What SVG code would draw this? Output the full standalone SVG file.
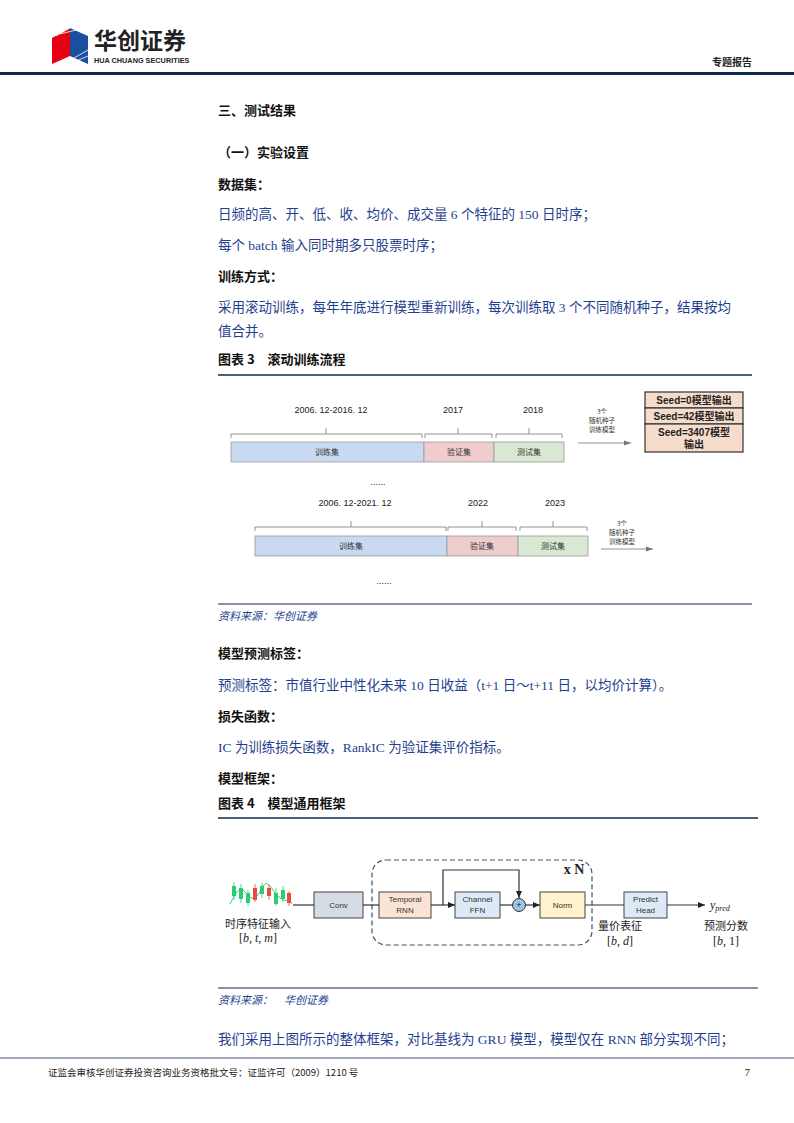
<svg xmlns="http://www.w3.org/2000/svg" width="794" height="1123" viewBox="0 0 794 1123">
<style>
.b{font-family:"Liberation Serif","Noto Sans CJK SC",serif;font-size:13.5px;fill:#1f3f8f}
.h{font-family:"Noto Sans CJK SC",sans-serif;font-weight:bold;font-size:13px;fill:#111}
.s{font-family:"Noto Sans CJK SC",sans-serif;font-size:8px;fill:#333}
.sm{font-family:"Liberation Sans","Noto Sans CJK SC",sans-serif;font-size:9px;fill:#222}
.t{font-family:"Noto Sans CJK SC",sans-serif;font-size:6.5px;fill:#333}
.seed{font-family:"Liberation Sans","Noto Sans CJK SC",sans-serif;font-weight:bold;font-size:10px;fill:#222}
.br{fill:none;stroke:#777;stroke-width:0.8}
.bar{stroke:#999;stroke-width:0.8}
.ln{stroke:#333;stroke-width:1.2;fill:none}
.bx{stroke:#444;stroke-width:1}
.bl{font-family:"Liberation Sans",sans-serif;font-size:8px;fill:#333}
.src{font-family:"Noto Sans CJK SC",sans-serif;font-style:italic;font-size:11px;fill:#1f3f8f}
.lb{font-family:"Noto Sans CJK SC",serif;font-size:11px;fill:#222}
.m{font-family:"Liberation Serif",serif;font-size:12px;fill:#222}
</style>
<defs>
<marker id="a" markerWidth="8" markerHeight="8" refX="7" refY="4" orient="auto" markerUnits="userSpaceOnUse"><path d="M0,1 L7,4 L0,7z" fill="#222"/></marker>
<marker id="g" markerWidth="8" markerHeight="8" refX="7" refY="4" orient="auto" markerUnits="userSpaceOnUse"><path d="M0,1.5 L7,4 L0,6.5z" fill="#777"/></marker>
</defs>
<rect width="794" height="1123" fill="#fff"/>
<g id="header">
<polygon points="52,38 70,28 70,56 52,64" fill="#e60012"/>
<polygon points="70,28 88,36 88,64 70,56" fill="#1a4fa0"/>
<g stroke="#fff" stroke-width="0.8"><line x1="56" y1="36" x2="70" y2="28"/><line x1="60" y1="34" x2="76" y2="30"/><line x1="74" y1="58" x2="88" y2="50"/><line x1="74" y1="62" x2="88" y2="56"/></g>
<text x="94" y="49" font-family="Noto Sans CJK SC,sans-serif" font-weight="bold" font-size="23" fill="#222">华创证券</text>
<text x="94" y="63" font-family="Liberation Sans,sans-serif" font-size="7.3" font-weight="bold" fill="#222">HUA CHUANG SECURITIES</text>
<text x="752" y="66" text-anchor="end" font-family="Noto Sans CJK SC,sans-serif" font-weight="bold" font-size="10" fill="#222">专题报告</text>
<rect x="0" y="72" width="794" height="3" fill="#0f2a4f"/>
</g>
<g id="text">
<text x="218" y="115" class="h" font-size="15">三、测试结果</text>
<text x="218" y="157" class="h">（一）实验设置</text>
<text x="218" y="189" class="h">数据集：</text>
<text x="218" y="219" class="b">日频的高、开、低、收、均价、成交量 6 个特征的 150 日时序；</text>
<text x="218" y="250" class="b">每个 batch 输入同时期多只股票时序；</text>
<text x="218" y="281" class="h">训练方式：</text>
<text x="218" y="312" class="b">采用滚动训练，每年年底进行模型重新训练，每次训练取 3 个不同随机种子，结果按均</text>
<text x="218" y="336" class="b">值合并。</text>
<text x="218" y="364" class="h">图表 3　滚动训练流程</text>
<line x1="218" y1="375" x2="752" y2="375" stroke="#0f2a4f" stroke-width="1.5"/>
<line x1="218" y1="604" x2="752" y2="604" stroke="#0f2a4f" stroke-width="1.2"/>
<text x="218" y="620" class="src">资料来源：华创证券</text>
<text x="218" y="658" class="h">模型预测标签：</text>
<text x="218" y="690" class="b">预测标签：市值行业中性化未来 10 日收益（t+1 日～t+11 日，以均价计算）。</text>
<text x="218" y="721" class="h">损失函数：</text>
<text x="218" y="752" class="b">IC 为训练损失函数，RankIC 为验证集评价指标。</text>
<text x="218" y="783" class="h">模型框架：</text>
<text x="218" y="808" class="h">图表 4　模型通用框架</text>
<line x1="218" y1="818" x2="758" y2="818" stroke="#0f2a4f" stroke-width="1.5"/>
<line x1="218" y1="988" x2="758" y2="988" stroke="#0f2a4f" stroke-width="1.2"/>
<text x="218" y="1004" class="src">资料来源：　华创证券</text>
<text x="218" y="1044" class="b">我们采用上图所示的整体框架，对比基线为 GRU 模型，模型仅在 RNN 部分实现不同；</text>
<line x1="0" y1="1058" x2="794" y2="1058" stroke="#0f2a4f" stroke-width="0.8"/>
<text x="48" y="1076" font-family="Noto Sans CJK SC,sans-serif" font-size="9.5" fill="#222">证监会审核华创证券投资咨询业务资格批文号：证监许可（2009）1210 号</text>
<text x="750" y="1076" text-anchor="end" font-family="Liberation Serif,serif" font-size="11" fill="#222">7</text>
</g>
<g id="fig3">
<g id="bar1">
<rect x="231" y="442" width="193" height="20" fill="#c9d9f2" class="bar"/>
<rect x="424" y="442" width="70" height="20" fill="#efcdcd" class="bar"/>
<rect x="494" y="442" width="70" height="20" fill="#d9e8d2" class="bar"/>
<text x="327" y="455" text-anchor="middle" class="s">训练集</text>
<text x="459" y="455" text-anchor="middle" class="s">验证集</text>
<text x="529" y="455" text-anchor="middle" class="s">测试集</text>
<path class="br" d="M231,438 V434 H422 V438 M326,434 V428 M425,438 V434 H492 V438 M458,434 V428 M496,438 V434 H562 V438 M529,434 V428"/>
<text x="331" y="413" text-anchor="middle" class="sm">2006. 12-2016. 12</text>
<text x="453" y="413" text-anchor="middle" class="sm">2017</text>
<text x="533" y="413" text-anchor="middle" class="sm">2018</text>
</g>
<g id="bar2">
<rect x="255" y="536" width="192" height="20" fill="#c9d9f2" class="bar"/>
<rect x="447" y="536" width="71" height="20" fill="#efcdcd" class="bar"/>
<rect x="518" y="536" width="70" height="20" fill="#d9e8d2" class="bar"/>
<text x="351" y="549" text-anchor="middle" class="s">训练集</text>
<text x="482" y="549" text-anchor="middle" class="s">验证集</text>
<text x="553" y="549" text-anchor="middle" class="s">测试集</text>
<path class="br" d="M255,531 V527 H446 V531 M351,527 V521 M448,531 V527 H516 V531 M482,527 V521 M520,531 V527 H587 V531 M553,527 V521"/>
<text x="355" y="506" text-anchor="middle" class="sm">2006. 12-2021. 12</text>
<text x="478" y="506" text-anchor="middle" class="sm">2022</text>
<text x="555" y="506" text-anchor="middle" class="sm">2023</text>
</g>
<g id="seeds">
<rect x="645" y="392" width="98" height="16" fill="#f5dccb" stroke="#333" stroke-width="1.2"/>
<rect x="645" y="408" width="98" height="16" fill="#f5dccb" stroke="#333" stroke-width="1.2"/>
<rect x="645" y="424" width="98" height="28" fill="#f5dccb" stroke="#333" stroke-width="1.2"/>
<text x="694" y="404" text-anchor="middle" class="seed">Seed=0模型输出</text>
<text x="694" y="420" text-anchor="middle" class="seed">Seed=42模型输出</text>
<text x="694" y="436" text-anchor="middle" class="seed">Seed=3407模型</text>
<text x="694" y="448" text-anchor="middle" class="seed">输出</text>
</g>
<text x="602" y="414" text-anchor="middle" class="t">3个</text>
<text x="602" y="423" text-anchor="middle" class="t">随机种子</text>
<text x="602" y="432" text-anchor="middle" class="t">训练模型</text>
<text x="622" y="526" text-anchor="middle" class="t">3个</text>
<text x="622" y="535" text-anchor="middle" class="t">随机种子</text>
<text x="622" y="544" text-anchor="middle" class="t">训练模型</text>
<text x="378" y="485" text-anchor="middle" class="sm">......</text>
<text x="384" y="584" text-anchor="middle" class="sm">......</text>
</g>
<g id="connectors3">
<line x1="578" y1="443" x2="631" y2="443" stroke="#777" stroke-width="0.8" marker-end="url(#g)"/>
<line x1="601" y1="549" x2="653" y2="549" stroke="#777" stroke-width="0.8" marker-end="url(#g)"/>
</g>
<g id="fig4">
<g id="candles">
<path d="M230,904 C236,892 240,885 246,893 S256,900 262,888 S272,892 280,898 S288,896 292,904" fill="none" stroke="#2ecc71" stroke-width="1"/>
<g stroke-width="0.8">
<line x1="234" y1="882" x2="234" y2="900" stroke="#2ecc71"/><rect x="232" y="886" width="4" height="10" fill="#2ecc71"/>
<line x1="241" y1="884" x2="241" y2="903" stroke="#2ecc71"/><rect x="239" y="888" width="4" height="11" fill="#2ecc71"/>
<line x1="248" y1="890" x2="248" y2="906" stroke="#2ecc71"/><rect x="246" y="893" width="4" height="10" fill="#2ecc71"/>
<line x1="255" y1="884" x2="255" y2="902" stroke="#e74c3c"/><rect x="253" y="888" width="4" height="12" fill="#e74c3c"/>
<line x1="262" y1="883" x2="262" y2="898" stroke="#2ecc71"/><rect x="260" y="886" width="4" height="8" fill="#2ecc71"/>
<line x1="269" y1="884" x2="269" y2="900" stroke="#e74c3c"/><rect x="267" y="888" width="4" height="8" fill="#e74c3c"/>
<line x1="276" y1="888" x2="276" y2="906" stroke="#2ecc71"/><rect x="274" y="893" width="4" height="11" fill="#2ecc71"/>
<line x1="283" y1="886" x2="283" y2="902" stroke="#2ecc71"/><rect x="281" y="890" width="4" height="9" fill="#2ecc71"/>
<line x1="289" y1="891" x2="289" y2="906" stroke="#e74c3c"/><rect x="287" y="893" width="4" height="10" fill="#e74c3c"/>
</g>
</g>
<rect x="372" y="860" width="220" height="85" rx="14" fill="none" stroke="#44546a" stroke-width="1.2" stroke-dasharray="5,3"/>
<text x="574" y="874" text-anchor="middle" font-family="Liberation Serif,serif" font-weight="bold" font-size="14" fill="#222">x N</text>
<g id="conv"><rect x="314" y="892" width="49" height="26" fill="#d6dce4" class="bx"/><text x="338.5" y="908" text-anchor="middle" class="bl">Conv</text></g>
<g id="rnn"><rect x="379" y="892" width="52" height="26" fill="#fbe3d6" class="bx"/><text x="405" y="902" text-anchor="middle" class="bl">Temporal</text><text x="405" y="913" text-anchor="middle" class="bl">RNN</text></g>
<g id="ffn"><rect x="455" y="892" width="45" height="26" fill="#dde9f7" class="bx"/><text x="477.5" y="902" text-anchor="middle" class="bl">Channel</text><text x="477.5" y="913" text-anchor="middle" class="bl">FFN</text></g>
<g id="plus"><circle cx="519" cy="905" r="6.5" fill="#9dc3e6" stroke="#333" stroke-width="1"/><text x="519" y="908" text-anchor="middle" font-family="Liberation Sans,sans-serif" font-size="9" fill="#222">+</text></g>
<g id="norm"><rect x="540" y="892" width="45" height="26" fill="#fff2cc" class="bx"/><text x="562.5" y="908" text-anchor="middle" class="bl">Norm</text></g>
<g id="head"><rect x="624" y="892" width="43" height="26" fill="#dde9f7" class="bx"/><text x="645.5" y="902" text-anchor="middle" class="bl">Predict</text><text x="645.5" y="913" text-anchor="middle" class="bl">Head</text></g>
<text x="710" y="909" font-family="Liberation Serif,serif" font-style="italic" font-size="12" fill="#222">y<tspan font-size="8" dy="2">pred</tspan></text>
<text x="258" y="928" text-anchor="middle" class="lb">时序特征输入</text>
<text x="258" y="942" text-anchor="middle" class="m">[<tspan font-style="italic">b</tspan>, <tspan font-style="italic">t</tspan>, <tspan font-style="italic">m</tspan>]</text>
<text x="620" y="930" text-anchor="middle" class="lb">量价表征</text>
<text x="620" y="945" text-anchor="middle" class="m">[<tspan font-style="italic">b</tspan>, <tspan font-style="italic">d</tspan>]</text>
<text x="726" y="930" text-anchor="middle" class="lb">预测分数</text>
<text x="726" y="945" text-anchor="middle" class="m">[<tspan font-style="italic">b</tspan>, 1]</text>
</g>
<g id="connectors4">
<line x1="293" y1="905" x2="314" y2="905" class="ln"/>
<line x1="363" y1="905" x2="379" y2="905" class="ln"/>
<line x1="431" y1="905" x2="455" y2="905" class="ln" marker-end="url(#a)"/>
<path d="M443,905 V870 H519 V898" class="ln" marker-end="url(#a)"/>
<line x1="500" y1="905" x2="512.5" y2="905" class="ln"/>
<line x1="525.5" y1="905" x2="540" y2="905" class="ln" marker-end="url(#a)"/>
<line x1="585" y1="905" x2="624" y2="905" class="ln"/>
<line x1="667" y1="905" x2="705" y2="905" class="ln" marker-end="url(#a)"/>
</g>
</svg>
